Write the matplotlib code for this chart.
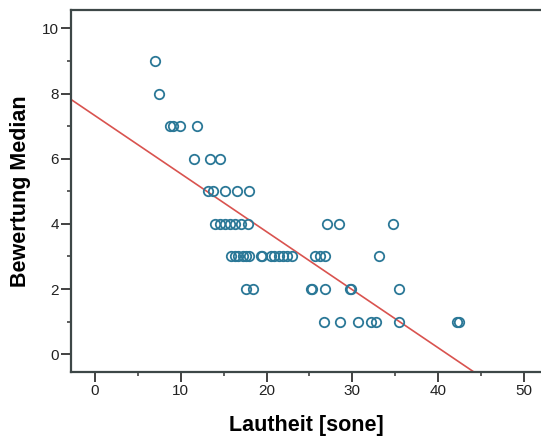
import matplotlib
matplotlib.use("Agg")
import matplotlib.pyplot as plt
from matplotlib.ticker import MultipleLocator

plt.rcParams['font.family'] = ['Liberation Sans', 'DejaVu Sans']

# loudness [sone] per median rating
x_r9 = [7.0]
x_r8 = [7.5]
x_r7 = [8.8, 9.1, 9.9, 11.9]
x_r6 = [11.6, 13.4, 14.6]
x_r5 = [13.2, 13.8, 15.1, 16.5, 18.0]
x_r4 = [14.0, 14.6, 15.2, 15.7, 16.3, 17.0, 17.8, 27.0, 28.4, 34.7]
x_r3 = [15.8, 16.3, 16.7, 17.2, 17.6, 18.0, 19.3, 19.5, 20.5, 20.9, 21.4,
        21.9, 22.4, 23.0, 25.6, 26.2, 26.8, 33.1]
x_r2 = [17.6, 18.4, 25.2, 25.3, 26.8, 29.7, 29.9, 35.4]
x_r1 = [26.7, 28.6, 30.7, 32.2, 32.8, 35.5, 42.2, 42.4]

groups = {9: x_r9, 8: x_r8, 7: x_r7, 6: x_r6, 5: x_r5,
          4: x_r4, 3: x_r3, 2: x_r2, 1: x_r1}

# fit line (linear regression)
fit_intercept = 7.32
fit_slope = -0.178

xlim = (-2.75, 52.0)
ylim = (-0.54, 10.56)

fig = plt.figure(figsize=(5.41, 4.38), dpi=100)
ax = fig.add_axes([0.132, 0.151, 0.868, 0.826])

for rating, xs in groups.items():
    ax.plot(xs, [rating] * len(xs), linestyle='none', marker='o', ms=6.8,
            mfc='none', mec='#2b7897', mew=1.3, zorder=3)

ax.plot(list(xlim), [fit_intercept + fit_slope * v for v in xlim],
        color='#d9534f', lw=1.2, zorder=2)

ax.set_xlim(*xlim)
ax.set_ylim(*ylim)
ax.xaxis.set_major_locator(MultipleLocator(10))
ax.xaxis.set_minor_locator(MultipleLocator(5))
ax.yaxis.set_major_locator(MultipleLocator(2))
ax.yaxis.set_minor_locator(MultipleLocator(1))

ax.tick_params(which='major', length=7, width=1.3, color='#333', labelsize=11,
               labelcolor='#222', pad=2)
ax.tick_params(which='minor', length=3, width=1.1, color='#333')

for side in ['left', 'bottom', 'top']:
    ax.spines[side].set_color('#3d4747')
    ax.spines[side].set_linewidth(1.6)
ax.spines['right'].set_visible(False)

ax.set_xlabel('Lautheit [sone]', fontsize=15.5, fontweight='bold', labelpad=12)
ax.set_ylabel('Bewertung Median', fontsize=15.5, fontweight='bold', labelpad=8)

fig.savefig('out.png', dpi=100)
